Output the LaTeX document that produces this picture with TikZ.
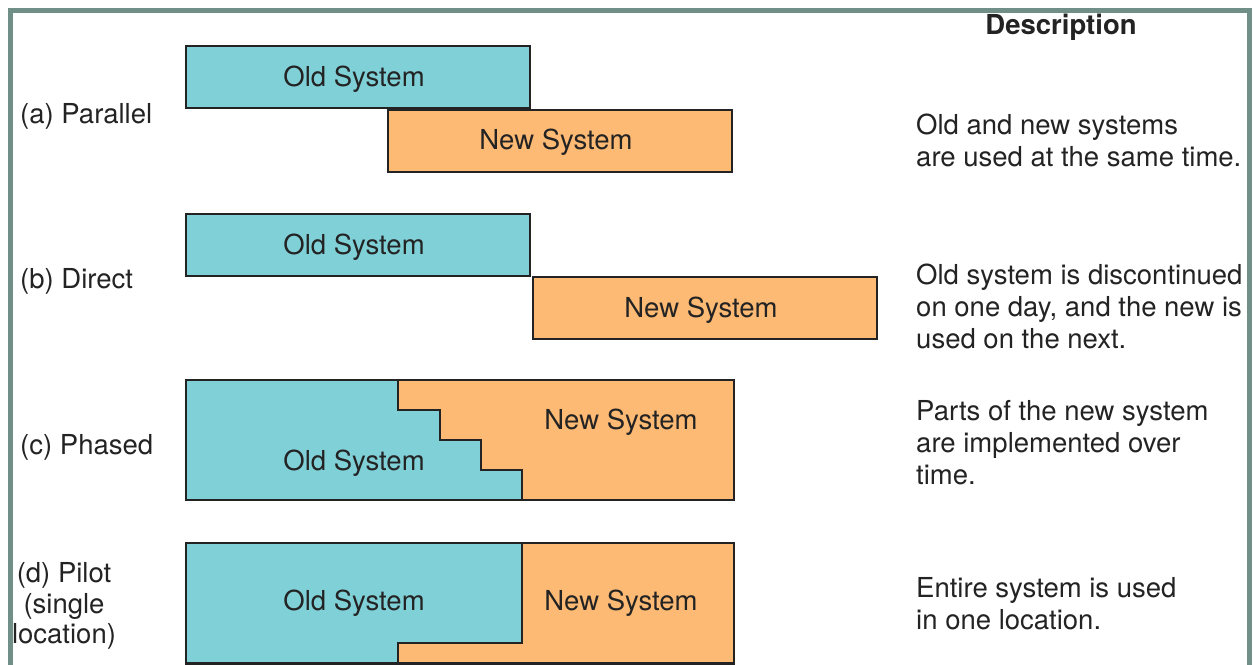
\documentclass[tikz,border=0pt]{standalone}
\usepackage{fontspec}
\setmainfont{TeX Gyre Heros}
\begin{document}
\begin{tikzpicture}[x=1pt,y=-1pt,
  oldc/.style={fill=oldfill},
  newc/.style={fill=newfill},
  outl/.style={draw=outline,line width=2.6pt,line join=miter},
  boxtxt/.style={font=\fontsize{27.5}{30}\selectfont,text=textc,inner sep=0pt},
  lbl/.style={font=\fontsize{27.5}{30}\selectfont,text=textc,inner sep=0pt,anchor=west},
  desc/.style={font=\fontsize{27.5}{32}\selectfont,text=textc,inner sep=0pt,anchor=west,align=left},
  sysbox/.style={rectangle,outl,minimum width=344pt,minimum height=62pt,inner sep=0pt}]
\definecolor{oldfill}{RGB}{128,208,216}
\definecolor{newfill}{RGB}{253,186,116}
\definecolor{outline}{RGB}{35,35,35}
\definecolor{textc}{RGB}{35,35,35}
\definecolor{framec}{RGB}{112,143,135}
\useasboundingbox (0,0) rectangle (1253,664);
\fill[white] (0,0) rectangle (1253,664);
\draw[framec,line width=5pt] (10,700) -- (10,10) -- (1249,10) -- (1249,700);

% header
\node[font=\bfseries\fontsize{27.5}{30}\selectfont,text=textc,inner sep=0pt] (hdr) at (1061,27) {Description};

% (a) Parallel
\node[lbl] (la) at (20,116) {(a) Parallel};
\node[sysbox,oldc] (aold) at (358,77) {};
\node[sysbox,newc] (anew) at (560,141) {};
\node[boxtxt] (aoldt) at (354,79) {Old System};
\node[boxtxt] (anewt) at (556,142) {New System};
\node[desc] (da) at (916,140) {Old and new systems\\are used at the same time.};

% (b) Direct
\node[lbl] (lb) at (20,281) {(b) Direct};
\node[sysbox,oldc] (bold) at (358,245) {};
\node[sysbox,newc] (bnew) at (705,308) {};
\node[boxtxt] (boldt) at (354,247) {Old System};
\node[boxtxt] (bnewt) at (701,310) {New System};
\node[desc] (db) at (916,306) {Old system is discontinued\\on one day, and the new is\\used on the next.};

% (c) Phased
\node[lbl] (lc) at (20,447) {(c) Phased};
\fill[newfill] (186,380) rectangle (734,500);
\fill[oldfill] (186,380) -- (398,380) -- (398,410) -- (440,410) -- (440,440) -- (481,440) -- (481,470) -- (522,470) -- (522,500) -- (186,500) -- cycle;
\draw[outl] (398,380) -- (398,410) -- (440,410) -- (440,440) -- (481,440) -- (481,470) -- (522,470) -- (522,500);
\draw[outl] (186,380) rectangle (734,500);
\node[boxtxt] (cnew) at (621,422) {New System};
\node[boxtxt] (cold) at (354,463) {Old System};
\node[desc] (dc) at (916,443) {Parts of the new system\\are implemented over\\time.};

% (d) Pilot
\node[font=\fontsize{27.5}{30.5}\selectfont,text=textc,inner sep=0pt,align=center] (ld) at (64,606) {(d) Pilot\\(single\\location)};
\fill[newfill] (186,543) rectangle (734,663.5);
\fill[oldfill] (186,543) -- (522,543) -- (522,643) -- (398,643) -- (398,663.5) -- (186,663.5) -- cycle;
\draw[outl] (522,543) -- (522,643) -- (398,643) -- (398,663.5);
\draw[outl] (186,543) rectangle (734,663.5);
\node[boxtxt] (dold) at (354,603) {Old System};
\node[boxtxt] (dnew) at (621,603) {New System};
\node[desc] (dd) at (916,604) {Entire system is used\\in one location.};
\end{tikzpicture}
\end{document}
